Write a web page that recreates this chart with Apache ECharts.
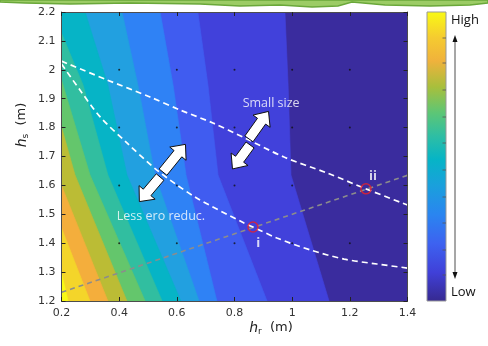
<!DOCTYPE html>
<html><head><meta charset="utf-8">
<script src="https://cdn.jsdelivr.net/npm/echarts/dist/echarts.min.js"></script>
<style>html,body{margin:0;padding:0;background:#fff}#c{width:488px;height:346px}</style>
</head><body><div id="c"></div>
<script>
// ---- axes ----
const hrMin = 0.2, hrMax = 1.4, hrStep = 0.2;
const hsMin = 1.2, hsMax = 2.2, hsStep = 0.1;
const gridDotHr = [0.4, 0.6, 0.8, 1.0, 1.2];
const gridDotHs = [1.4, 1.6, 1.8, 2.0];

// ---- contour band boundaries (hr, hs), from darkest side to brightest ----
const lineLow1  = [[0.975,2.2],[0.986,1.947],[0.996,1.636],[1.128,1.2]];
const lineLow2  = [[0.673,2.2],[0.708,1.947],[0.743,1.636],[0.913,1.2]];
const lineLow3  = [[0.542,2.2],[0.587,1.947],[0.632,1.636],[0.739,1.2]];
const lineMid1  = [[0.410,2.2],[0.465,1.947],[0.524,1.636],[0.677,1.2]];
const lineMid2  = [[0.282,2.2],[0.361,1.947],[0.427,1.636],[0.614,1.2]];
const lineMid3  = [[0.2,2.127],[0.275,1.947],[0.361,1.636],[0.549,1.2]];
const lineMid4  = [[0.2,1.965],[0.299,1.636],[0.490,1.2]];
const lineHigh1 = [[0.2,1.802],[0.247,1.636],[0.427,1.2]];
const lineHigh2 = [[0.2,1.600],[0.361,1.2]];
const lineHigh3 = [[0.2,1.453],[0.299,1.2]];
const lineHigh4 = [[0.2,1.297],[0.223,1.2]];
const contourLines = [lineLow1,lineLow2,lineLow3,lineMid1,lineMid2,lineMid3,lineMid4,lineHigh1,lineHigh2,lineHigh3,lineHigh4];
const bandColors = ['#3a2c9e','#4141db','#405cf0','#2f82f5','#22a0e0','#06b4c6','#31bea0','#64c66c','#bbbc35','#f4ae3c','#f4d52a','#f9fa14'];

// ---- annotation curves ----
const smallSizeCurve = [[0.2,2.03],[0.358,1.965],[0.507,1.906],[0.611,1.861],[0.725,1.816],[0.830,1.767],[0.972,1.698],[1.121,1.643],[1.256,1.588],[1.4,1.532]];
const erosionCurve = [[0.2,2.02],[0.264,1.930],[0.334,1.837],[0.427,1.747],[0.531,1.653],[0.663,1.560],[0.833,1.470],[0.864,1.456],[0.947,1.418],[1.065,1.376],[1.180,1.345],[1.294,1.328],[1.4,1.314]];
const designLine = [[0.2,1.23],[1.4,1.635]];
const pointNames = ['i','ii'];
const pointHr = [0.864, 1.256];
const pointHs = [1.456, 1.588];
const pointLabelHr = [0.882, 1.280];
const pointLabelHs = [1.401, 1.633];
const noteTexts = ['Small size','Less ero reduc.'];
const noteHr = [0.927, 0.545];
const noteHs = [1.885, 1.494];
// arrows: [hr0, hs0, hr1, hs1] tail -> head
const arrows = [[0.552,1.646,0.630,1.742],[0.542,1.629,0.470,1.544],[0.850,1.761,0.918,1.856],[0.854,1.740,0.793,1.657]];

const chart = echarts.init(document.getElementById('c'), null, {renderer:'canvas'});
const axisColor = '#4d4d4d';
const labelFont = {color:'#333', fontSize:11, fontFamily:'DejaVu Sans'};

function axisX(pos, showLabel){
  return {type:'value', position:pos, min:hrMin, max:hrMax, interval:hrStep, z:10,
    axisLine:{show:true, onZero:false, lineStyle:{color:axisColor, width:1}},
    axisTick:{show:true, inside:true, length:4, lineStyle:{color:'#222'}},
    axisLabel:Object.assign({show:showLabel, margin:7}, labelFont),
    splitLine:{show:false}};
}
function axisY(pos, showLabel){
  return {type:'value', position:pos, min:hsMin, max:hsMax, interval:hsStep, z:10,
    axisLine:{show:true, onZero:false, lineStyle:{color:axisColor, width:1}},
    axisTick:{show:true, inside:true, length:4, lineStyle:{color:'#222'}},
    axisLabel:Object.assign({show:showLabel, margin:6}, labelFont),
    splitLine:{show:false}};
}

const dots = [];
gridDotHr.forEach(x => gridDotHs.forEach(y => dots.push([x,y])));

const parula = [
  {offset:0.00,color:'#36298f'},{offset:0.10,color:'#4040d8'},{offset:0.20,color:'#3d62f0'},
  {offset:0.30,color:'#2a85f0'},{offset:0.40,color:'#1aa0dc'},{offset:0.49,color:'#06b4c6'},
  {offset:0.57,color:'#2ebea4'},{offset:0.65,color:'#5cc676'},{offset:0.74,color:'#a8bf3c'},
  {offset:0.83,color:'#f0b23c'},{offset:0.91,color:'#f5cb30'},{offset:1.00,color:'#f9fa14'}];

const cbTicks = [38,63,90,117,143,170,197,223,250,275];

const graphics = [
  {type:'polygon', shape:{points:[[0,0],[488,0],[488,3],[470,5],[430,6],[385,5],[352,2],[338,6],[312,7],[280,5],[240,6],[200,4],[130,3],[70,4],[25,3],[0,2]]},
    style:{fill:'#9ccc65', stroke:'#6aa83a', lineWidth:1.5}},
  {type:'rect', shape:{x:427, y:12, width:19, height:289},
    style:{fill:{type:'linear', x:0, y:1, x2:0, y2:0, colorStops:parula}, stroke:'#999', lineWidth:1}},
  {type:'text', x:451, y:20, style:{text:'High', fill:'#111', font:'13px "Open Sans"', verticalAlign:'middle'}},
  {type:'text', x:451, y:292, style:{text:'Low', fill:'#111', font:'13px "Open Sans"', verticalAlign:'middle'}},
  {type:'line', shape:{x1:455, y1:40, x2:455, y2:274}, style:{stroke:'#222', lineWidth:0.8}},
  {type:'polygon', shape:{points:[[455,35],[452.5,42],[457.5,42]]}, style:{fill:'#111'}},
  {type:'polygon', shape:{points:[[455,279],[452.5,272],[457.5,272]]}, style:{fill:'#111'}},
  {type:'text', x:22, y:125, rotation:Math.PI/2,
    style:{text:'{h|h}{s|s}{n|  (m)}', align:'center', verticalAlign:'middle', fill:'#222',
      rich:{h:{fontSize:14, fontStyle:'italic', fontFamily:'DejaVu Sans', lineHeight:16, fill:'#222'},
            s:{fontSize:9, fontFamily:'DejaVu Sans', verticalAlign:'bottom', lineHeight:10, fill:'#222'},
            n:{fontSize:13, fontFamily:'DejaVu Sans', lineHeight:16, fill:'#222'}}}},
  {type:'text', x:271, y:328,
    style:{text:'{h|h}{s|r}{n|  (m)}', align:'center', verticalAlign:'middle', fill:'#222',
      rich:{h:{fontSize:14, fontStyle:'italic', fontFamily:'DejaVu Sans', lineHeight:16, fill:'#222'},
            s:{fontSize:9, fontFamily:'DejaVu Sans', verticalAlign:'bottom', lineHeight:10, fill:'#222'},
            n:{fontSize:13, fontFamily:'DejaVu Sans', lineHeight:16, fill:'#222'}}}}
];
cbTicks.forEach(y => graphics.push({type:'line', shape:{x1:442.5, y1:y, x2:446, y2:y}, style:{stroke:'#555', lineWidth:0.8}}));

const option = {
  animation:false,
  grid:{left:61.5, top:12, width:346, height:289, containLabel:false},
  xAxis:[axisX('bottom', true), axisX('top', false)],
  yAxis:[axisY('left', true), axisY('right', false)],
  graphic:graphics,
  series:[
    {type:'custom', coordinateSystem:'cartesian2d', silent:true, z:1, clip:true,
      data:bandColors.map(() => [hrMin, hsMin]),
      renderItem:function(params, api){
        const k = params.dataIndex;
        let pts;
        if (k === 0) pts = [[hrMin,hsMax],[hrMax,hsMax],[hrMax,hsMin],[hrMin,hsMin]];
        else {
          const b = contourLines[k-1];
          pts = b.slice();
          pts.push([hrMin,hsMin]);
          if (b[0][1] >= hsMax) pts.push([hrMin,hsMax]);
        }
        return {type:'polygon', shape:{points:pts.map(p => api.coord(p))},
          style:{fill:bandColors[k], stroke:bandColors[k], lineWidth:0.6}};
      }},
    {type:'scatter', z:3, silent:true, symbol:'circle', symbolSize:2, itemStyle:{color:'#111'}, data:dots},
    {type:'line', z:4, silent:true, showSymbol:false, data:designLine,
      lineStyle:{color:'#8c8c8c', width:1.6, type:[5,4]}},
    {type:'line', z:5, silent:true, showSymbol:false, smooth:0.3, data:smallSizeCurve,
      lineStyle:{color:'#ffffff', width:1.7, type:[6,4]}},
    {type:'line', z:5, silent:true, showSymbol:false, smooth:0.3, data:erosionCurve,
      lineStyle:{color:'#ffffff', width:1.7, type:[6,4]}},
    {type:'scatter', z:6, silent:true, symbol:'circle', symbolSize:10,
      itemStyle:{color:'rgba(0,0,0,0)', borderColor:'#e8222b', borderWidth:1.5},
      data:pointHr.map((x,i) => [x, pointHs[i]])},
    {type:'scatter', z:7, silent:true, symbolSize:1, itemStyle:{color:'transparent'},
      data:pointNames.map((n,i) => ({name:n, value:[pointLabelHr[i], pointLabelHs[i]]})),
      label:{show:true, position:'inside', formatter:'{b}', color:'#fff', fontSize:13, fontWeight:'bold', fontFamily:'Open Sans'}},
    {type:'scatter', z:7, silent:true, symbolSize:1, itemStyle:{color:'transparent'},
      data:noteTexts.map((n,i) => ({name:n, value:[noteHr[i], noteHs[i]]})),
      label:{show:true, position:'inside', formatter:'{b}', color:'#fff', fontSize:12.5, fontFamily:'Open Sans'}},
    {type:'custom', coordinateSystem:'cartesian2d', silent:true, z:8,
      data:arrows,
      renderItem:function(params, api){
        const p0 = api.coord([api.value(0), api.value(1)]);
        const p1 = api.coord([api.value(2), api.value(3)]);
        const dx = p1[0]-p0[0], dy = p1[1]-p0[1];
        const L = Math.sqrt(dx*dx+dy*dy);
        const ux = dx/L, uy = dy/L, nx = -uy, ny = ux;
        const w = 5, hw = 10.5, hl = 12;
        const bx = p1[0]-ux*hl, by = p1[1]-uy*hl;
        const pts = [
          [p0[0]+nx*w, p0[1]+ny*w],[bx+nx*w, by+ny*w],[bx+nx*hw, by+ny*hw],[p1[0],p1[1]],
          [bx-nx*hw, by-ny*hw],[bx-nx*w, by-ny*w],[p0[0]-nx*w, p0[1]-ny*w]];
        return {type:'polygon', shape:{points:pts}, style:{fill:'#fff', stroke:'#111', lineWidth:1}};
      }}
  ]
};
chart.setOption(option);
</script>
</body></html>
